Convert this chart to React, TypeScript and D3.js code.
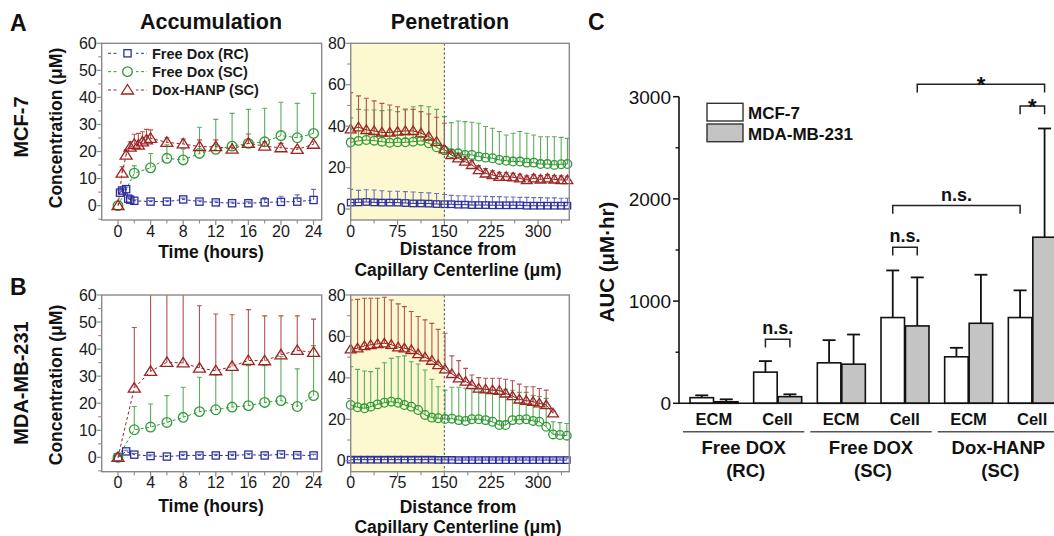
import React from 'react';
import * as d3 from 'd3';

const FONT = '"Liberation Sans", Arial, Helvetica, sans-serif';

// colours of the three formulations
const BLUE = '#2d2f9c';
const GREEN = '#2f9a35';
const RED = '#9c2424';
const BLUE_ERR = '#6f72c2';
const GREEN_ERR = '#5cad5c';
const RED_ERR = '#b65252';

const seriesLabels = ['Free Dox (RC)', 'Free Dox (SC)', 'Dox-HANP (SC)'];

// ---------- Accumulation, MCF-7 (hours / uM) ----------
const mcfRcTime = [0.25, 0.5, 1, 1.25, 1.5, 2, 4, 6, 8, 10, 12, 14, 16, 18, 20, 22, 24];
const mcfRcVal = [4.8, 5.6, 6.1, 2.6, 2.2, 1.8, 1.5, 1.5, 2.3, 1.5, 1.2, 0.9, 0.9, 1.2, 1.4, 1.5, 2.1];
const mcfRcTop = [5.5, 6.3, 6.8, 3.0, 2.6, 2.2, 1.9, 1.9, 2.8, 2.0, 1.7, 1.3, 1.4, 3.0, 3.5, 4.0, 6.0];

const mcfScTime = [0, 2, 4, 6, 8, 10, 12, 14, 16, 18, 20, 22, 24];
const mcfScVal = [0, 12.0, 14.0, 17.5, 16.9, 19.3, 20.8, 22.0, 23.0, 23.6, 25.9, 25.1, 26.7];
const mcfScTop = [0, 14.7, 19.3, 22.5, 21.0, 29.0, 31.9, 34.1, 35.6, 36.0, 38.2, 37.8, 41.5];

const mcfNpTime = [0, 0.5, 1, 1.5, 2, 2.5, 3, 3.5, 4, 6, 8, 10, 12, 14, 16, 18, 20, 22, 24];
const mcfNpVal = [0, 12, 18.7, 21.6, 22.7, 22.4, 23.6, 24.3, 24.9, 23.4, 22.8, 21.8, 21.8, 20.9, 23, 22, 21.4, 20.8, 22.7];
const mcfNpTop = [0, 14.4, 20.6, 23.6, 26.4, 26.7, 27.3, 28.2, 28, 25.1, 24.6, 24.3, 24.3, 21.5, 26.5, 23.6, 23, 21.5, 23.6];

// ---------- Accumulation, MDA-MB-231 ----------
const mdaRcTime = [0, 1, 2, 4, 6, 8, 10, 12, 14, 16, 18, 20, 22, 24];
const mdaRcVal = [0, 2.2, 1.0, 0.5, 0.3, 0.7, 0.7, 0.7, 0.7, 1.0, 0.7, 1.1, 0.8, 0.7];
const mdaRcTop = [0, 2.6, 1.4, 0.9, 0.7, 1.1, 1.1, 1.1, 1.1, 1.4, 1.1, 1.5, 1.2, 1.1];

const mdaTime = [0, 2, 4, 6, 8, 10, 12, 14, 16, 18, 20, 22, 24];
const mdaScVal = [0, 10.2, 11.2, 12.9, 14.8, 16.9, 17.6, 18.6, 19.1, 20.3, 21, 18.8, 22.8];
const mdaScTop = [0, 18.8, 19.7, 22.8, 25.9, 29.6, 30.5, 32.1, 33.9, 33.9, 37.3, 32.7, 41.3];
const mdaNpVal = [0, 25.6, 31.8, 35.1, 34.9, 33, 32, 33.6, 35.8, 35.7, 37.9, 39.5, 38.8];
const mdaNpTop = [0, 48, 64, 66, 62, 56, 53, 52.7, 54.6, 52.3, 52.3, 52.3, 51.1];

// ---------- Penetration, MCF-7 (um / uM) ----------
const distTop = [0, 12.5, 25, 37.5, 50, 62.5, 75, 87.5, 100, 112.5, 125, 137.5, 150, 161, 172, 183, 194, 205, 216, 227, 238, 249, 260, 271, 282, 293, 304, 315, 326, 337, 347];
const penMcfRc = [3.1, 3.2, 3.4, 3.2, 3.1, 3.1, 3.1, 2.9, 2.7, 2.7, 2.6, 2.4, 2.3, 2.3, 2.1, 2.1, 1.9, 1.9, 1.9, 1.8, 1.8, 1.8, 1.8, 1.8, 1.6, 1.6, 1.6, 1.6, 1.6, 1.6, 1.6];
const penMcfRcTop = [9.5, 9, 9.3, 9.2, 8.8, 8.6, 8.6, 8.4, 8.2, 8, 7.8, 7.5, 7, 6.6, 6.4, 6.4, 6.2, 6.2, 6.1, 6, 6, 5.8, 5.8, 5.6, 5.6, 5.5, 5.5, 5.4, 5.4, 5.2, 5.2];
const penMcfSc = [32.2, 32.9, 33.3, 33, 32.5, 32, 32.2, 32.2, 32.5, 32.9, 31.7, 29.8, 28.3, 26.9, 26.9, 26.1, 26.1, 25.3, 24.8, 24.5, 23.7, 23.3, 22.9, 22.9, 22.4, 22.4, 21.7, 21.7, 21.3, 21.6, 21.7];
const penMcfScTop = [44, 48.1, 47.8, 47.8, 47.5, 47.8, 47, 47.8, 49.4, 49.9, 49.4, 48.1, 44.6, 41.7, 42.5, 42.2, 41.9, 41.4, 39.8, 39, 37.4, 35.7, 36.6, 37.4, 36.6, 35.7, 34.9, 34.9, 34.9, 34.6, 34.1];
const penMcfNp = [38.5, 39.5, 38.2, 37.7, 37, 36.9, 37.4, 37.7, 37.7, 36.6, 35, 32.5, 28.8, 26.1, 24.5, 22.9, 21.3, 18.8, 17.2, 16.4, 15.6, 15.6, 15.3, 14.8, 14, 14.8, 14.3, 14.8, 14.3, 14, 14];
const penMcfNpTop = [56.2, 54.6, 53.5, 52.2, 51, 50.2, 49.4, 48.3, 48.1, 47, 45.9, 44.3, 41.4, 28.5, 27, 25.5, 23.5, 21, 19.5, 18.5, 17.7, 17.5, 17.2, 16.8, 16, 16.6, 16.2, 16.6, 16.2, 16, 15.8];

// ---------- Penetration, MDA-MB-231 ----------
const distBottom = [0, 11, 22, 32, 43, 54, 65, 76, 86, 97, 108, 119, 130, 140, 151, 162, 173, 184, 194, 205, 216, 227, 238, 248, 259, 270, 281, 292, 302, 313, 324, 335, 346];
const penMdaRc = [0.5, 0.5, 0.5, 0.5, 0.5, 0.5, 0.5, 0.5, 0.5, 0.5, 0.5, 0.5, 0.5, 0.4, 0.4, 0.4, 0.3, 0.3, 0.3, 0.3, 0.3, 0.3, 0.3, 0.3, 0.3, 0.3, 0.3, 0.3, 0.3, 0.3, 0.3, 0.3, 0.3];
const penMdaRcTop = [1.6, 1.6, 1.6, 1.6, 1.6, 1.6, 1.6, 1.6, 1.6, 1.6, 1.6, 1.6, 1.5, 1.4, 1.4, 1.4, 1.3, 1.3, 1.3, 1.3, 1.3, 1.3, 1.3, 1.3, 1.3, 1.3, 1.3, 1.3, 1.3, 1.3, 1.3, 1.3, 1.3];
const penMdaSc = [26.9, 25.8, 25.3, 26.1, 27.2, 28, 28.5, 28, 26.9, 26.1, 24.5, 22.1, 20.8, 20.5, 20.1, 20.3, 19.6, 19.2, 20, 20, 19.6, 18.8, 17.2, 17.2, 19.6, 19.8, 20, 19.2, 18.8, 16.4, 12.7, 12.4, 12.1];
const penMdaScTop = [45.4, 44.1, 43.3, 43, 44.6, 47.3, 49.4, 50.2, 50.6, 47.8, 46.7, 43.8, 39.3, 35.7, 34.1, 35.5, 35.5, 35, 34.8, 34.5, 34.5, 34, 34, 34.5, 34, 33, 33, 31.5, 31, 30.1, 18.8, 18.4, 18];
const penMdaNp = [53.8, 54.3, 55.4, 55.9, 56.4, 56.7, 56, 54.8, 54.3, 53.5, 51.5, 49.9, 48.3, 46.2, 44.1, 41.9, 39.8, 38.2, 36.6, 34.9, 34.5, 34.1, 33.8, 32.5, 31.2, 29.6, 29, 28.5, 27.7, 26.9, 22.9];
const penMdaNpTop = [77.6, 77.9, 78.4, 78.4, 78.4, 78.9, 77.6, 75.7, 74.4, 72, 69.6, 68, 66.3, 63.4, 61.5, 50.6, 48.3, 44.6, 41.4, 40.1, 39.8, 39.8, 39.8, 39.3, 38.6, 37, 35.7, 35.7, 34.9, 34.1, 24];

// ---------- AUC (uM*hr) ----------
const aucCats = ['ECM', 'Cell', 'ECM', 'Cell', 'ECM', 'Cell'];
const aucGroups = [['Free DOX', '(RC)'], ['Free DOX', '(SC)'], ['Dox-HANP', '(SC)']];
const cellLines = ['MCF-7', 'MDA-MB-231'];
const aucMcf = [55, 305, 396, 839, 455, 839];
const aucMcfErr = [23, 108, 222, 461, 88, 266];
const aucMda = [15, 65, 383, 757, 783, 1625];
const aucMdaErr = [24, 23, 290, 475, 475, 1064];
const aucTicks = [0, 1000, 2000, 3000];
const aucMinor = [500, 1500, 2500];
// significance brackets: left bar (category, cell line), right bar, height, label
const sigLeftCat = [1, 3, 3, 3, 5];
const sigLeftLine = [0, 0, 0, 1, 0];
const sigRightCat = [1, 3, 5, 5, 5];
const sigRightLine = [1, 1, 0, 1, 1];
const sigLevel = [627, 1528, 1935, 3122, 2910];
const sigText = ['n.s.', 'n.s.', 'n.s.', '*', '*'];

const accTicks = [0, 4, 8, 12, 16, 20, 24];
const accMinor = [2, 6, 10, 14, 18, 22];
const accYTicks = [0, 10, 20, 30, 40, 50, 60];
const accYMinor = [-5, 5, 15, 25, 35, 45, 55];
const penTicks = [0, 75, 150, 225, 300];
const penMinor = [37.5, 112.5, 187.5, 262.5, 337.5];
const penYTicks = [0, 20, 40, 60, 80];
const penYMinor = [10, 30, 50, 70];

type Series = {
  shape: 'square' | 'circle' | 'triangle';
  color: string;
  err: string;
  xs: number[];
  ys: number[];
  tops: number[];
};

type PanelProps = {
  id: string;
  left: number;
  top: number;
  width: number;
  height: number;
  xDomain: [number, number];
  yDomain: [number, number];
  xTicks: number[];
  xMinor: number[];
  yTicks: number[];
  yMinor: number[];
  series: Series[];
  dashed: boolean;
  shade?: [number, number];
  msize: number;
};

function marker(shape: string, cx: number, cy: number, s: number, color: string, key: number) {
  if (shape === 'square') {
    const h = s * 0.36;
    return <rect key={key} x={cx - h} y={cy - h} width={2 * h} height={2 * h} fill="none" stroke={color} strokeWidth={1.3} />;
  }
  if (shape === 'circle') {
    return <circle key={key} cx={cx} cy={cy} r={s * 0.48} fill="none" stroke={color} strokeWidth={1.3} />;
  }
  const w = s * 0.6;
  const p = d3.path();
  p.moveTo(cx, cy - s * 0.55);
  p.lineTo(cx + w, cy + s * 0.4);
  p.lineTo(cx - w, cy + s * 0.4);
  p.closePath();
  return <path key={key} d={p.toString()} fill="none" stroke={color} strokeWidth={1.3} strokeLinejoin="miter" />;
}

function XYPanel(p: PanelProps) {
  const x = d3.scaleLinear().domain(p.xDomain).range([p.left, p.left + p.width]);
  const y = d3.scaleLinear().domain(p.yDomain).range([p.top + p.height, p.top]);
  const bottom = p.top + p.height;
  const axisColor = '#8a8a8a';
  return (
    <g>
      <defs>
        <clipPath id={p.id}>
          <rect x={p.left} y={p.top} width={p.width} height={p.height} />
        </clipPath>
      </defs>
      {p.shade && (
        <rect x={x(p.shade[0])} y={p.top} width={x(p.shade[1]) - x(p.shade[0])} height={p.height} fill="#fcf9d1" />
      )}
      <g clipPath={`url(#${p.id})`}>
        {p.series.map((s, si) => (
          <g key={'e' + si} stroke={s.err} strokeWidth={1.1}>
            {s.xs.map((xv, i) =>
              s.tops[i] > s.ys[i] ? (
                <g key={i}>
                  <line x1={x(xv)} x2={x(xv)} y1={y(s.ys[i])} y2={y(s.tops[i])} />
                  <line x1={x(xv) - 2.5} x2={x(xv) + 2.5} y1={y(s.tops[i])} y2={y(s.tops[i])} />
                </g>
              ) : null
            )}
          </g>
        ))}
        {p.series.map((s, si) => {
          const line = d3.line<number>().x((d, i) => x(s.xs[i])).y((d) => y(d));
          return (
            <path
              key={'l' + si}
              d={line(s.ys) || ''}
              fill="none"
              stroke={s.color}
              strokeWidth={1}
              strokeDasharray={p.dashed ? '3,2.5' : undefined}
            />
          );
        })}
      </g>
      {p.series.map((s, si) => (
        <g key={'m' + si}>{s.xs.map((xv, i) => marker(s.shape, x(xv), y(s.ys[i]), p.msize, s.color, i))}</g>
      ))}
      {p.shade && (
        <line x1={x(p.shade[1])} x2={x(p.shade[1])} y1={p.top} y2={bottom} stroke="#6e6e6e" strokeWidth={1.2} strokeDasharray="2.5,2" />
      )}
      <rect x={p.left} y={p.top} width={p.width} height={p.height} fill="none" stroke={axisColor} strokeWidth={1.4} />
      {p.xTicks.map((t) => (
        <g key={'xt' + t}>
          <line x1={x(t)} x2={x(t)} y1={bottom} y2={bottom + 5} stroke={axisColor} strokeWidth={1.2} />
          <text x={x(t)} y={bottom + 16.7} textAnchor="middle" fontSize={16} fill="#1a1a1a">{t}</text>
        </g>
      ))}
      {p.xMinor.map((t) => (
        <line key={'xm' + t} x1={x(t)} x2={x(t)} y1={bottom} y2={bottom + 3.5} stroke={axisColor} strokeWidth={1.1} />
      ))}
      {p.yTicks.map((t) => (
        <g key={'yt' + t}>
          <line x1={p.left - 5} x2={p.left} y1={y(t)} y2={y(t)} stroke={axisColor} strokeWidth={1.2} />
          <text x={p.left - 5} y={y(t)} dy="0.35em" textAnchor="end" fontSize={16} fill="#1a1a1a">{t}</text>
        </g>
      ))}
      {p.yMinor.map((t) => (
        <line key={'ym' + t} x1={p.left - 3.5} x2={p.left} y1={y(t)} y2={y(t)} stroke={axisColor} strokeWidth={1.1} />
      ))}
    </g>
  );
}

function AccLegend() {
  const shapes: Series['shape'][] = ['square', 'circle', 'triangle'];
  const colors = [BLUE, GREEN, RED];
  const rows = d3.scalePoint<string>().domain(seriesLabels).range([53.3, 90]);
  return (
    <g>
      {seriesLabels.map((lab, i) => {
        const yy = rows(lab) as number;
        return (
          <g key={lab}>
            <line x1={108} x2={147} y1={yy} y2={yy} stroke={colors[i]} strokeWidth={1} strokeDasharray="3,2.5" />
            <rect x={119} y={yy - 5} width={17} height={10} fill="#fff" />
            {marker(shapes[i], 127.5, yy, 10, colors[i], 0)}
            <text x={152} y={yy + 5.3} fontSize={14.5} fontWeight="bold" fill="#1a1a1a">{lab}</text>
          </g>
        );
      })}
    </g>
  );
}

function AucPanel() {
  const x0 = d3.scaleBand<number>().domain(d3.range(aucCats.length)).range([682, 1064]);
  const x1 = d3.scaleBand<string>().domain(cellLines).range([8, 56]).paddingInner(0.04);
  const y = d3.scaleLinear().domain([0, 3000]).range([403.3, 96.7]);
  const step = x0.step();
  const values = [aucMcf, aucMda];
  const errs = [aucMcfErr, aucMdaErr];
  const fills = ['#ffffff', '#c4c4c4'];
  const barCenter = (cat: number, line: number) =>
    (x0(cat) as number) + (x1(cellLines[line]) as number) + x1.bandwidth() / 2;
  const axisX = 679;
  return (
    <g>
      {cellLines.map((cl, li) => (
        <g key={cl}>
          {aucCats.map((c, i) => {
            const bx = (x0(i) as number) + (x1(cl) as number);
            const cx = bx + x1.bandwidth() / 2;
            const topV = values[li][i] + errs[li][i];
            return (
              <g key={i}>
                <line x1={cx} x2={cx} y1={y(values[li][i])} y2={y(topV)} stroke="#111" strokeWidth={1.8} />
                <line x1={cx - 6.5} x2={cx + 6.5} y1={y(topV)} y2={y(topV)} stroke="#111" strokeWidth={1.8} />
                <rect
                  x={bx}
                  y={y(values[li][i])}
                  width={x1.bandwidth()}
                  height={y(0) - y(values[li][i])}
                  fill={fills[li]}
                  stroke="#111"
                  strokeWidth={1.6}
                />
              </g>
            );
          })}
        </g>
      ))}
      {/* axes */}
      <line x1={axisX} x2={1060} y1={y(0)} y2={y(0)} stroke="#111" strokeWidth={1.6} />
      <line x1={axisX} x2={axisX} y1={y(0)} y2={y(3000)} stroke="#111" strokeWidth={1.6} />
      {aucTicks.map((t) => (
        <g key={t}>
          <line x1={axisX - 6} x2={axisX} y1={y(t)} y2={y(t)} stroke="#111" strokeWidth={1.5} />
          <text x={axisX - 8} y={y(t)} dy="0.36em" textAnchor="end" fontSize={19} fill="#111">{t}</text>
        </g>
      ))}
      {aucMinor.map((t) => (
        <line key={t} x1={axisX - 3.5} x2={axisX} y1={y(t)} y2={y(t)} stroke="#111" strokeWidth={1.4} />
      ))}
      <text
        transform={`translate(614,262) rotate(-90)`}
        textAnchor="middle"
        fontSize={20.5}
        fontWeight="bold"
        fill="#111"
      >
        AUC (μM·hr)
      </text>
      {/* category labels */}
      {aucCats.map((c, i) => (
        <text key={i} x={(x0(i) as number) + step / 2} y={425} textAnchor="middle" fontSize={16.5} fontWeight="bold" fill="#111">
          {c}
        </text>
      ))}
      {aucGroups.map((g, gi) => {
        const start = x0(gi * 2) as number;
        const end = (x0(gi * 2 + 1) as number) + step;
        const mid = start + step;
        return (
          <g key={gi}>
            <line x1={start + 1} x2={end - 5} y1={431.7} y2={431.7} stroke="#555" strokeWidth={1.6} />
            <text x={mid - 2} y={454} textAnchor="middle" fontSize={18.5} fontWeight="bold" fill="#111">{g[0]}</text>
            <text x={mid} y={477} textAnchor="middle" fontSize={18.5} fontWeight="bold" fill="#111">{g[1]}</text>
          </g>
        );
      })}
      {/* significance */}
      {sigText.map((s, i) => {
        const xl = barCenter(sigLeftCat[i], sigLeftLine[i]);
        const xr = barCenter(sigRightCat[i], sigRightLine[i]);
        const yy = y(sigLevel[i]);
        return (
          <g key={i}>
            <path d={`M${xl},${yy + 8.3}V${yy}H${xr}V${yy + 8.3}`} fill="none" stroke="#222" strokeWidth={1.5} />
            <text
              x={(xl + xr) / 2}
              y={s === '*' ? yy + 8 : yy - 5}
              textAnchor="middle"
              fontSize={s === '*' ? 22 : 18}
              fontWeight="bold"
              fill="#111"
            >
              {s}
            </text>
          </g>
        );
      })}
      {/* legend */}
      {cellLines.map((cl, i) => (
        <g key={cl}>
          <rect x={707} y={103.3 + i * 20.7} width={36} height={17.7} fill={fills[i]} stroke="#333" strokeWidth={1.4} />
          <text x={748} y={118.7 + i * 21.3} fontSize={17} fontWeight="bold" fill="#111">{cl}</text>
        </g>
      ))}
    </g>
  );
}

export default function App() {
  const accProps = {
    left: 101.7,
    width: 220,
    height: 176.7,
    xDomain: [-2, 25] as [number, number],
    yDomain: [-5.3, 60] as [number, number],
    xTicks: accTicks,
    xMinor: accMinor,
    yTicks: accYTicks,
    yMinor: accYMinor,
    dashed: true,
    msize: 10,
  };
  const penProps = {
    left: 350.7,
    width: 218.6,
    height: 176.7,
    xDomain: [0, 350] as [number, number],
    yDomain: [-5.3, 80] as [number, number],
    xTicks: penTicks,
    xMinor: penMinor,
    yTicks: penYTicks,
    yMinor: penYMinor,
    dashed: false,
    shade: [0, 150] as [number, number],
    msize: 9,
  };
  const mcfAcc: Series[] = [
    { shape: 'square', color: BLUE, err: BLUE_ERR, xs: mcfRcTime, ys: mcfRcVal, tops: mcfRcTop },
    { shape: 'circle', color: GREEN, err: GREEN_ERR, xs: mcfScTime, ys: mcfScVal, tops: mcfScTop },
    { shape: 'triangle', color: RED, err: RED_ERR, xs: mcfNpTime, ys: mcfNpVal, tops: mcfNpTop },
  ];
  const mdaAcc: Series[] = [
    { shape: 'square', color: BLUE, err: BLUE_ERR, xs: mdaRcTime, ys: mdaRcVal, tops: mdaRcTop },
    { shape: 'circle', color: GREEN, err: GREEN_ERR, xs: mdaTime, ys: mdaScVal, tops: mdaScTop },
    { shape: 'triangle', color: RED, err: RED_ERR, xs: mdaTime, ys: mdaNpVal, tops: mdaNpTop },
  ];
  const mcfPen: Series[] = [
    { shape: 'square', color: BLUE, err: BLUE_ERR, xs: distTop, ys: penMcfRc, tops: penMcfRcTop },
    { shape: 'circle', color: GREEN, err: GREEN_ERR, xs: distTop, ys: penMcfSc, tops: penMcfScTop },
    { shape: 'triangle', color: RED, err: RED_ERR, xs: distTop, ys: penMcfNp, tops: penMcfNpTop },
  ];
  const mdaPen: Series[] = [
    { shape: 'square', color: BLUE, err: BLUE_ERR, xs: distBottom, ys: penMdaRc, tops: penMdaRcTop },
    { shape: 'circle', color: GREEN, err: GREEN_ERR, xs: distBottom, ys: penMdaSc, tops: penMdaScTop },
    { shape: 'triangle', color: RED, err: RED_ERR, xs: distBottom.slice(0, penMdaNp.length), ys: penMdaNp, tops: penMdaNpTop },
  ];

  const bold = { fontWeight: 'bold' as const, fill: '#111' };
  return (
    <svg
      width={1054}
      height={536}
      style={{ position: 'absolute', left: 0, top: 0, background: '#fff', fontFamily: FONT }}
    >
      <rect width={1054} height={536} fill="#fff" />
      {/* panel letters and titles */}
      <text x={10} y={31} fontSize={23} {...bold}>A</text>
      <text x={10} y={295} fontSize={23} {...bold}>B</text>
      <text x={588} y={30} fontSize={23} {...bold}>C</text>
      <text x={211} y={29} textAnchor="middle" fontSize={21.5} {...bold}>Accumulation</text>
      <text x={450} y={29} textAnchor="middle" fontSize={21.5} {...bold}>Penetration</text>
      <text transform="translate(28,127) rotate(-90)" textAnchor="middle" fontSize={20} {...bold}>MCF-7</text>
      <text transform="translate(28,383) rotate(-90)" textAnchor="middle" fontSize={20} {...bold}>MDA-MB-231</text>
      <text transform="translate(62,128) rotate(-90)" textAnchor="middle" fontSize={17.5} {...bold}>Concentration (μM)</text>
      <text transform="translate(62,385) rotate(-90)" textAnchor="middle" fontSize={17.5} {...bold}>Concentration (μM)</text>

      <XYPanel id="accA" top={43.3} series={mcfAcc} {...accProps} />
      <XYPanel id="penA" top={43.3} series={mcfPen} {...penProps} />
      <XYPanel id="accB" top={295} series={mdaAcc} {...accProps} />
      <XYPanel id="penB" top={295} series={mdaPen} {...penProps} />
      <AccLegend />

      <text x={211} y={258} textAnchor="middle" fontSize={17.5} {...bold}>Time (hours)</text>
      <text x={211} y={512} textAnchor="middle" fontSize={17.5} {...bold}>Time (hours)</text>
      <text x={458} y={255} textAnchor="middle" fontSize={17.5} {...bold}>Distance from</text>
      <text x={458} y={276} textAnchor="middle" fontSize={17.5} {...bold}>Capillary Centerline (μm)</text>
      <text x={458} y={513} textAnchor="middle" fontSize={17.5} {...bold}>Distance from</text>
      <text x={458} y={533} textAnchor="middle" fontSize={17.5} {...bold}>Capillary Centerline (μm)</text>

      <AucPanel />
    </svg>
  );
}
